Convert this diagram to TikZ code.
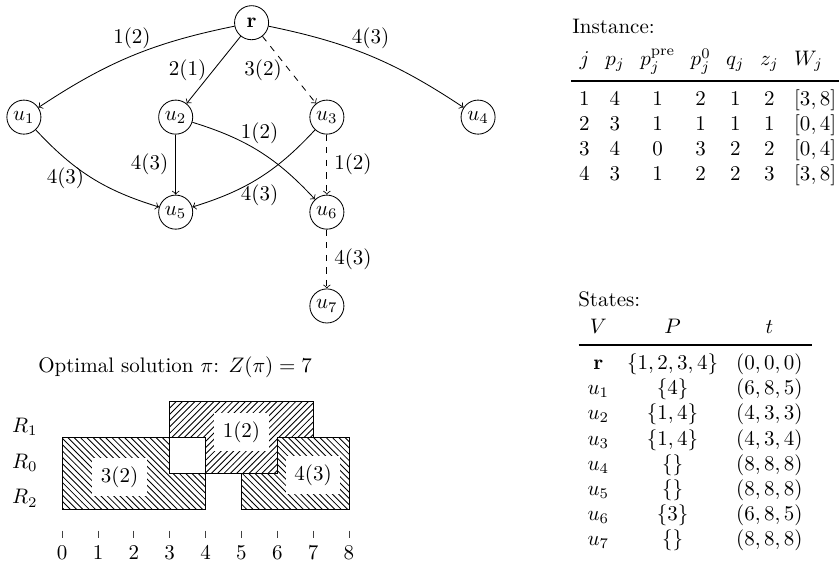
\documentclass[tikz,border=0pt]{standalone}
\usepackage{booktabs}
\usetikzlibrary{patterns}
\setlength{\tabcolsep}{4.3pt}

\begin{document}
\begin{tikzpicture}[
    vertex/.style={circle, draw, inner sep=0pt, minimum size=0.57cm},
    job/.style={fill=white, inner sep=4pt},
    caption/.style={anchor=base west, inner sep=0pt},
    >=to]
  \useasboundingbox (0,0) rectangle (14.04,-9.456);
  % state graph
  \begin{scope}[every node/.style=vertex]
    \draw
      (4.21,-0.38) node (r){$\mathbf{r}$}
      (0.40,-1.96) node (u1){$u_1$}
      (2.94,-1.96) node (u2){$u_2$}
      (5.47,-1.96) node (u3){$u_3$}
      (8.00,-1.96) node (u4){$u_4$}
      (2.94,-3.55) node (u5){$u_5$}
      (5.47,-3.55) node (u6){$u_6$}
      (5.47,-5.12) node (u7){$u_7$};
  \end{scope}
  \begin{scope}[->]
    \draw (r) to[bend right=11] node[above] {1(2)} (u1);
    \draw (r) to node[left] {2(1)} (u2);
    \draw[dashed] (r) to node[left] {3(2)} (u3);
    \draw (r) to[bend left=11] node[above] {4(3)} (u4);
    \draw (u1) to[bend right=15] node[left] {4(3)} (u5);
    \draw (u2) to node[left] {4(3)} (u5);
    \draw (u2) to[bend left=15] node[above] {1(2)} (u6);
    \draw (u3) to[bend left=15] node[below] {4(3)} (u5);
    \draw[dashed] (u3) to node[right] {1(2)} (u6);
    \draw[dashed] (u6) to node[right] {4(3)} (u7);
  \end{scope}

  % schedule
  \begin{scope}[shift={(1.04,-8.52)}, x=0.6cm, y=0.6cm]
    \node (title) at (3.15,3.95) {Optimal solution $\pi$: $Z(\pi) = 7$};
    \draw[pattern=north west lines] (0,0) -- (4,0) -- (4,1) -- (3,1) -- (3,2) -- (0,2) -- cycle;
    \draw[pattern=north west lines] (5,0) -- (8,0) -- (8,2) -- (6,2) -- (6,1) -- (5,1) -- cycle;
    \draw[pattern=north east lines] (3,3) -- (7,3) -- (7,2) -- (6,2) -- (6,1) -- (4,1) -- (4,2) -- (3,2) -- cycle;
    \node[job] (j3) at (1.6,0.9) {3(2)};
    \node[job] (j1) at (5,2.15) {1(2)};
    \node[job] (j4) at (7,0.95) {4(3)};
    \node (R1) at (-1.04,2.3) {$R_1$};
    \node (R0) at (-1.04,1.3) {$R_0$};
    \node (R2) at (-1.04,0.3) {$R_2$};
    \foreach \x in {0,...,8}
      \draw[black!75] (\x,-0.6) -- (\x,-0.8) node[below, text=black] (t\x) {\x};
  \end{scope}

  % instance and states
  \node[caption] (instlbl) at (9.57,-0.56) {Instance:};
  \node[caption] (insttab) at (9.556,-1.10) {%
    \setlength{\tabcolsep}{3.7pt}%
    \begin{tabular}[t]{ccccccl}
      $j$ & $p_j$ & $p_j^{\mathrm{pre}}$ & $p_j^0$ & $q_j$ & $z_j$ & $W_j$ \\[1.5pt]
      \midrule[0.8pt]
      1 & 4 & 1 & 2 & 1 & 2 & $[3,8]$ \\
      2 & 3 & 1 & 1 & 1 & 1 & $[0,4]$ \\
      3 & 4 & 0 & 3 & 2 & 2 & $[0,4]$ \\
      4 & 3 & 1 & 2 & 2 & 3 & $[3,8]$
    \end{tabular}};
  \node[caption] (statlbl) at (9.67,-5.133) {States:};
  \node[caption] (stattab) at (9.674,-5.573) {%
    \begin{tabular}[t]{ccc}
      $V$ & $P$ & $t$ \\
      \midrule[0.8pt]
      $\mathbf{r}$ & $\{1,2,3,4\}$ & $(0,0,0)$ \\
      $u_1$ & $\{4\}$ & $(6,8,5)$ \\
      $u_2$ & $\{1,4\}$ & $(4,3,3)$ \\
      $u_3$ & $\{1,4\}$ & $(4,3,4)$ \\
      $u_4$ & $\{\}$ & $(8,8,8)$ \\
      $u_5$ & $\{\}$ & $(8,8,8)$ \\
      $u_6$ & $\{3\}$ & $(6,8,5)$ \\
      $u_7$ & $\{\}$ & $(8,8,8)$
    \end{tabular}};
\end{tikzpicture}
\end{document}
